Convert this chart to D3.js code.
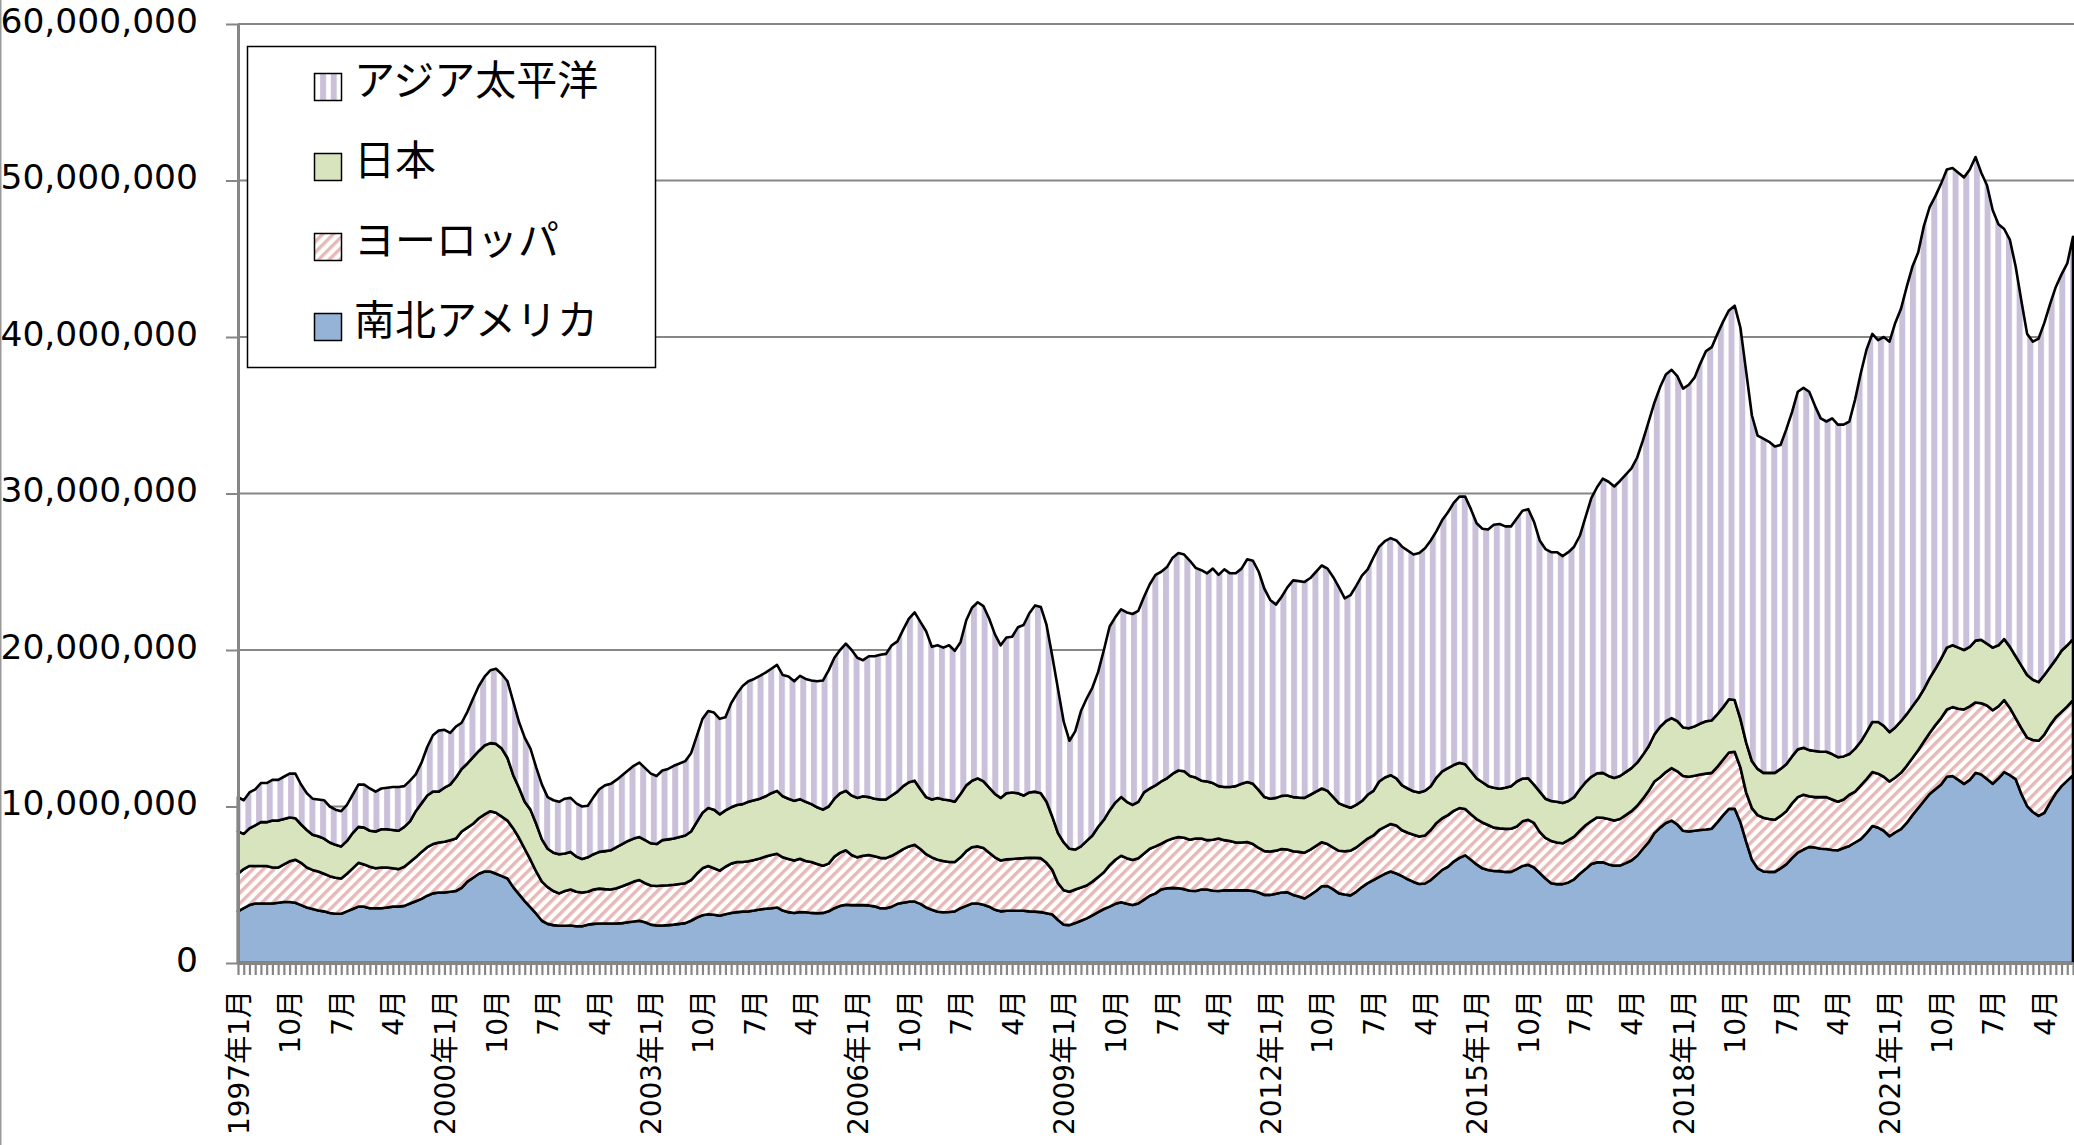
<!DOCTYPE html>
<html>
<head>
<meta charset="utf-8">
<script src="https://cdn.jsdelivr.net/npm/d3@7"></script>
<style>
  html, body { margin: 0; padding: 0; background: #fff; }
  svg { display: block; }
  text { font-family: "DejaVu Sans", "Noto Sans CJK JP", sans-serif; fill: #000; }
</style>
</head>
<body>
<svg id="chart" width="2074" height="1145"></svg>
<script>
// monthly values, million units, 1997-01 .. 2023-09
var americas = [
  3.3,3.5,3.7,3.8,3.8,3.8,3.8,3.85,3.9,3.9,
  3.85,3.7,3.55,3.45,3.35,3.3,3.2,3.15,3.15,3.3,
  3.45,3.6,3.6,3.5,3.5,3.5,3.55,3.6,3.6,3.65,
  3.8,3.95,4.1,4.3,4.45,4.5,4.5,4.55,4.6,4.8,
  5.2,5.45,5.7,5.85,5.85,5.7,5.55,5.4,4.85,4.4,
  3.95,3.55,3.15,2.7,2.5,2.42,2.38,2.38,2.4,2.35,
  2.35,2.45,2.5,2.52,2.52,2.52,2.52,2.55,2.6,2.65,
  2.7,2.6,2.45,2.4,2.4,2.42,2.45,2.5,2.55,2.7,
  2.9,3.05,3.12,3.08,3.02,3.12,3.2,3.25,3.28,3.3,
  3.35,3.42,3.47,3.5,3.55,3.35,3.25,3.2,3.26,3.24,
  3.2,3.18,3.2,3.3,3.5,3.65,3.72,3.7,3.7,3.7,
  3.68,3.62,3.5,3.5,3.6,3.78,3.85,3.92,3.92,3.78,
  3.55,3.4,3.28,3.24,3.26,3.3,3.5,3.65,3.8,3.8,
  3.72,3.6,3.4,3.3,3.34,3.34,3.34,3.34,3.3,3.28,
  3.25,3.18,3.1,2.75,2.45,2.42,2.55,2.7,2.85,3.05,
  3.25,3.45,3.6,3.78,3.88,3.78,3.7,3.8,4.05,4.3,
  4.45,4.7,4.78,4.8,4.78,4.72,4.62,4.6,4.7,4.7,
  4.62,4.6,4.64,4.64,4.64,4.64,4.64,4.6,4.5,4.35,
  4.35,4.42,4.5,4.52,4.35,4.25,4.12,4.35,4.6,4.9,
  4.92,4.7,4.45,4.38,4.32,4.55,4.85,5.1,5.3,5.5,
  5.7,5.85,5.72,5.55,5.35,5.18,5.05,5.08,5.3,5.62,
  5.95,6.15,6.48,6.72,6.88,6.6,6.3,6.05,5.94,5.88,
  5.87,5.82,5.82,6.0,6.2,6.28,6.1,5.75,5.4,5.1,
  5.04,5.04,5.15,5.35,5.7,6.0,6.33,6.43,6.44,6.3,
  6.22,6.22,6.38,6.55,6.85,7.3,7.72,8.3,8.65,8.95,
  9.1,8.85,8.45,8.4,8.45,8.5,8.53,8.58,9.0,9.45,
  9.85,9.85,9.0,7.75,6.6,6.05,5.85,5.82,5.82,6.05,
  6.3,6.7,7.05,7.25,7.42,7.38,7.3,7.28,7.22,7.2,
  7.35,7.48,7.7,7.92,8.3,8.75,8.65,8.45,8.1,8.35,
  8.55,8.95,9.45,9.9,10.35,10.8,11.1,11.4,11.9,11.95,
  11.7,11.45,11.7,12.15,12.05,11.75,11.45,11.8,12.2,12.0,
  11.75,10.8,10.03,9.65,9.4,9.6,10.25,10.85,11.3,11.65,
  12.0
];
var europe = [
  2.4,2.5,2.5,2.4,2.4,2.4,2.3,2.25,2.4,2.6,
  2.75,2.7,2.55,2.5,2.5,2.4,2.35,2.3,2.25,2.4,
  2.6,2.8,2.7,2.65,2.55,2.6,2.55,2.45,2.4,2.5,
  2.65,2.8,3.0,3.1,3.15,3.2,3.25,3.3,3.35,3.6,
  3.45,3.45,3.55,3.65,3.85,3.9,3.8,3.7,3.75,3.6,
  3.35,3.05,2.7,2.5,2.35,2.18,2.07,2.22,2.3,2.2,
  2.15,2.1,2.2,2.23,2.2,2.18,2.26,2.35,2.45,2.55,
  2.6,2.5,2.5,2.52,2.55,2.55,2.55,2.55,2.55,2.6,
  2.8,3.0,3.08,2.97,2.88,3.03,3.15,3.2,3.17,3.2,
  3.23,3.26,3.33,3.4,3.43,3.4,3.4,3.35,3.4,3.28,
  3.25,3.15,3.02,3.05,3.3,3.4,3.48,3.2,3.05,3.15,
  3.22,3.2,3.22,3.2,3.25,3.27,3.43,3.53,3.63,3.5,
  3.4,3.35,3.32,3.28,3.19,3.15,3.25,3.5,3.6,3.65,
  3.63,3.45,3.35,3.25,3.28,3.31,3.34,3.36,3.43,3.44,
  3.45,3.22,2.85,2.35,2.2,2.13,2.15,2.12,2.1,2.15,
  2.25,2.35,2.65,2.82,2.97,2.92,2.88,2.9,2.95,3.0,
  3.0,2.92,3.04,3.15,3.27,3.28,3.26,3.35,3.25,3.15,
  3.26,3.35,3.21,3.16,3.06,3.06,3.09,3.0,2.85,2.8,
  2.77,2.76,2.78,2.73,2.79,2.85,2.93,2.9,2.88,2.82,
  2.68,2.68,2.72,2.76,2.86,2.83,2.82,2.85,2.85,3.0,
  3.0,3.03,3.06,2.93,2.97,3.02,3.03,3.07,3.2,3.33,
  3.3,3.3,3.24,3.18,2.96,2.9,2.9,2.93,2.88,2.77,
  2.73,2.75,2.76,2.72,2.85,2.87,2.85,2.63,2.6,2.7,
  2.66,2.61,2.7,2.72,2.75,2.8,2.74,2.87,2.84,2.9,
  2.88,2.98,3.07,3.15,3.2,3.2,3.28,3.3,3.22,3.25,
  3.35,3.4,3.5,3.5,3.51,3.55,3.57,3.57,3.55,3.55,
  3.6,3.65,3.5,3.15,3.3,3.4,3.43,3.38,3.33,3.35,
  3.4,3.5,3.55,3.5,3.23,3.22,3.3,3.32,3.23,3.1,
  3.1,3.27,3.25,3.43,3.45,3.45,3.45,3.45,3.5,3.5,
  3.6,3.65,3.65,3.7,3.8,3.9,4.1,4.25,4.3,4.4,
  4.55,4.75,4.7,4.5,4.55,4.7,4.7,4.6,4.6,4.3,
  3.9,4.2,4.37,4.6,4.8,5.0,4.95,4.85,4.75,4.75,
  4.8
];
var japan = [
  2.7,2.25,2.4,2.6,2.8,2.8,3.0,3.0,2.9,2.8,
  2.65,2.45,2.4,2.25,2.25,2.25,2.15,2.1,2.05,2.1,
  2.25,2.3,2.35,2.3,2.35,2.45,2.45,2.45,2.45,2.55,
  2.6,2.95,3.1,3.3,3.35,3.25,3.45,3.55,3.9,4.0,
  4.1,4.25,4.3,4.4,4.35,4.4,4.35,4.0,3.4,3.2,
  3.0,3.2,3.05,2.7,2.45,2.45,2.5,2.4,2.4,2.25,
  2.15,2.2,2.25,2.35,2.43,2.5,2.62,2.7,2.75,2.75,
  2.75,2.75,2.7,2.68,2.9,2.93,2.95,3.0,3.05,3.1,
  3.3,3.55,3.7,3.75,3.6,3.6,3.6,3.65,3.7,3.8,
  3.82,3.82,3.85,3.95,4.02,3.9,3.85,3.81,3.81,3.78,
  3.7,3.62,3.58,3.65,3.7,3.8,3.8,3.8,3.8,3.8,
  3.7,3.68,3.73,3.75,3.85,3.9,4.02,4.1,4.1,3.82,
  3.65,3.7,3.95,3.93,3.95,3.85,4.05,4.2,4.25,4.35,
  4.25,4.15,4.05,4.0,4.23,4.25,4.17,4.0,4.17,4.23,
  4.15,3.9,3.4,3.2,3.05,2.75,2.55,2.63,2.85,2.95,
  3.2,3.35,3.5,3.65,3.75,3.6,3.52,3.6,3.9,3.85,
  3.9,3.98,3.98,4.15,4.25,4.25,4.07,3.9,3.7,3.75,
  3.62,3.35,3.4,3.45,3.6,3.75,3.84,3.85,3.7,3.45,
  3.38,3.37,3.4,3.45,3.46,3.47,3.5,3.5,3.47,3.43,
  3.4,3.22,3.03,2.91,2.74,2.72,2.68,2.8,2.85,3.1,
  3.15,3.12,3.02,2.87,2.83,2.77,2.82,2.85,2.8,2.9,
  3.0,3.0,2.93,2.9,2.86,2.75,2.6,2.57,2.48,2.55,
  2.54,2.63,2.72,2.88,2.73,2.65,2.45,2.57,2.5,2.55,
  2.6,2.57,2.5,2.53,2.65,2.75,2.83,2.82,2.87,2.75,
  2.72,2.75,2.75,2.75,2.75,2.8,2.85,3.0,3.23,3.25,
  3.2,3.2,3.1,3.1,3.16,3.25,3.35,3.35,3.35,3.35,
  3.4,3.3,3.1,3.2,3.0,2.95,2.87,2.95,3.0,3.0,
  3.0,3.0,3.05,3.0,2.95,2.95,2.9,2.9,2.9,2.85,
  2.75,2.6,2.75,2.8,3.0,3.2,3.3,3.25,3.15,3.2,
  3.3,3.3,3.3,3.3,3.35,3.5,3.6,3.8,3.95,3.95,
  3.9,3.8,3.8,3.95,4.05,3.95,4.0,3.9,3.9,3.9,
  3.95,4.0,4.0,3.85,3.75,3.8,3.7,3.7,3.9,3.9,
  3.9
];
var asia = [
  2.2,2.15,2.3,2.3,2.5,2.5,2.6,2.6,2.7,2.8,
  2.85,2.55,2.35,2.3,2.35,2.45,2.3,2.25,2.25,2.3,
  2.45,2.7,2.75,2.7,2.55,2.6,2.65,2.75,2.8,2.6,
  2.6,2.35,2.6,3.1,3.6,3.9,3.7,3.3,3.25,2.95,
  3.3,3.75,4.15,4.4,4.65,4.8,4.75,4.9,4.7,4.2,
  4.1,3.9,3.6,3.5,3.3,3.35,3.35,3.5,3.45,3.4,
  3.35,3.3,3.65,4.0,4.2,4.25,4.3,4.4,4.5,4.65,
  4.75,4.6,4.45,4.35,4.45,4.5,4.65,4.7,4.75,5.0,
  5.5,6.0,6.2,6.2,6.1,5.95,6.65,7.1,7.55,7.7,
  7.75,7.85,7.9,7.95,8.05,7.75,7.8,7.64,7.88,7.85,
  7.9,8.05,8.25,8.7,9.0,9.15,9.4,9.3,8.95,8.7,
  9.0,9.1,9.25,9.3,9.6,9.6,10.0,10.45,10.75,10.7,
  10.6,9.75,9.75,9.7,9.9,9.65,9.7,10.55,11.05,11.25,
  11.2,10.8,10.2,9.75,9.95,9.95,10.6,10.9,11.45,11.9,
  11.9,11.3,10.25,9.2,7.7,6.9,7.55,8.65,9.1,9.45,
  9.9,10.85,11.75,11.85,12.0,12.1,12.2,12.2,12.5,13.05,
  13.45,13.4,13.5,13.8,13.9,13.85,13.75,13.4,13.45,13.3,
  13.7,13.5,13.9,13.65,13.6,13.75,14.23,14.25,13.95,13.3,
  12.7,12.35,12.72,13.3,13.85,13.83,13.8,13.85,14.05,14.25,
  14.2,14.05,13.8,13.25,13.58,14.0,14.4,14.4,14.9,15.0,
  15.1,15.15,15.2,15.25,15.2,15.13,15.3,15.5,15.7,15.75,
  16.05,16.35,16.75,17.0,17.1,16.75,16.3,16.2,16.4,16.8,
  16.91,16.7,16.6,16.8,17.12,17.2,16.8,16.05,15.95,15.9,
  15.95,15.78,15.9,16.0,16.2,16.95,17.8,18.28,18.8,18.8,
  18.63,18.85,19.0,19.15,19.5,20.1,20.75,21.2,21.7,22.15,
  22.25,22.05,21.65,21.95,22.28,23.0,23.65,23.85,24.3,24.65,
  24.85,25.2,25.0,23.7,22.1,21.3,21.35,21.15,20.85,20.7,
  21.4,22.0,22.85,23.0,22.9,22.05,21.3,21.1,21.45,21.25,
  21.2,21.25,22.3,23.55,24.45,24.8,24.4,24.85,24.95,25.85,
  26.35,27.3,28.1,28.5,29.6,30.1,30.2,30.35,30.55,30.5,
  30.35,30.2,30.5,30.9,29.85,29.3,27.95,26.9,26.2,26.0,
  24.9,23.3,21.8,21.6,21.95,22.5,23.2,23.8,24.05,24.4,
  25.7
];

var categories = d3.timeMonth.range(new Date(1997, 0, 1), new Date(2023, 9, 1));
var yTicks = [0, 10e6, 20e6, 30e6, 40e6, 50e6, 60e6];
var seriesKeys = ["americas", "europe", "japan", "asia"];
var seriesNames = {americas: "南北アメリカ", europe: "ヨーロッパ", japan: "日本", asia: "アジア太平洋"};
var legendOrder = ["asia", "japan", "europe", "americas"];

var svg = d3.select("#chart");
var plotLeft = 238, plotRight = 2073, plotTop = 24, plotBottom = 963;
var gray = "#868686";

// build table for the stack
var table = categories.map(function (c, i) {
    return {date: c, americas: americas[i] * 1e6, europe: europe[i] * 1e6, japan: japan[i] * 1e6, asia: asia[i] * 1e6};
});

var x = d3.scalePoint().domain(d3.range(categories.length)).range([plotLeft, plotRight]);
var y = d3.scaleLinear().domain([0, 60e6]).range([plotBottom, plotTop]);

// patterns
var defs = svg.append("defs");
var pv = defs.append("pattern").attr("id", "pat-asia").attr("patternUnits", "userSpaceOnUse")
    .attr("width", 10.67).attr("height", 10);
pv.append("rect").attr("width", 10.67).attr("height", 10).attr("fill", "#fff");
pv.append("rect").attr("x", 0).attr("width", 6).attr("height", 10).attr("fill", "#CBC0DA");

var pd = defs.append("pattern").attr("id", "pat-europe").attr("patternUnits", "userSpaceOnUse")
    .attr("width", 7.54).attr("height", 10).attr("patternTransform", "rotate(45)");
pd.append("rect").attr("width", 7.54).attr("height", 10).attr("fill", "#fff");
pd.append("rect").attr("x", 0).attr("width", 3.4).attr("height", 10).attr("fill", "#E6B9B8");

var fills = {americas: "#95B3D7", europe: "url(#pat-europe)", japan: "#D7E4BD", asia: "url(#pat-asia)"};

// chart area border on the left
svg.append("line").attr("x1", 0.75).attr("x2", 0.75).attr("y1", 0).attr("y2", 1145)
    .style("stroke", "#9a9a9a").style("stroke-width", 1.5);

// gridlines
svg.append("g").selectAll("line").data(yTicks.filter(function (d) { return d > 0; })).enter()
    .append("line")
    .attr("x1", plotLeft).attr("x2", plotRight + 1)
    .attr("y1", function (d) { return y(d); }).attr("y2", function (d) { return y(d); })
    .style("stroke", gray).style("stroke-width", 2);

// stacked areas
var stack = d3.stack().keys(seriesKeys);
var layers = stack(table);

var area = d3.area()
    .x(function (d, i) { return x(i); })
    .y0(function (d) { return y(d[0]); })
    .y1(function (d) { return y(d[1]); });

svg.append("g").selectAll("path").data(layers).enter()
    .append("path")
    .attr("d", area)
    .style("fill", function (d) { return fills[d.key]; })
    .style("stroke", "#000")
    .style("stroke-width", 2.6)
    .style("stroke-linejoin", "round");

// x axis
var xAxis = d3.axisBottom(x)
    .tickSize(12).tickSizeOuter(0)
    .tickFormat(function (i) {
        if (i % 9 !== 0) return "";
        var c = categories[i];
        return c.getMonth() === 0 ? c.getFullYear() + "年1月" : (c.getMonth() + 1) + "月";
    });
var gx = svg.append("g").attr("transform", "translate(0," + plotBottom + ")").call(xAxis);
gx.select(".domain").style("stroke", gray).style("stroke-width", 3);
gx.selectAll(".tick line").style("stroke", gray).style("stroke-width", 2.2);
gx.selectAll(".tick text")
    .attr("transform", "rotate(-90)")
    .attr("text-anchor", "end")
    .attr("x", -27).attr("y", 0).attr("dy", "0.36em")
    .style("font-size", "28px");

// y axis
var yAxis = d3.axisLeft(y).tickValues(yTicks).tickSize(12).tickSizeOuter(0).tickPadding(28)
    .tickFormat(d3.format(","));
var gy = svg.append("g").attr("transform", "translate(" + plotLeft + ",0)").call(yAxis);
gy.select(".domain").style("stroke", gray).style("stroke-width", 3);
gy.selectAll(".tick line").style("stroke", gray).style("stroke-width", 2);
gy.selectAll(".tick text").attr("dy", "0.235em").style("font-size", "34.5px");
gx.attr("font-family", null); gy.attr("font-family", null);

// legend
var lg = svg.append("g");
lg.append("rect").attr("x", 247.5).attr("y", 46.5).attr("width", 408).attr("height", 321)
    .style("fill", "#fff").style("stroke", "#000").style("stroke-width", 1.5);
var items = lg.selectAll("g.item").data(legendOrder).enter().append("g").attr("class", "item");
items.append("rect")
    .attr("x", 314.5).attr("y", function (d, i) { return 73.5 + i * 80; })
    .attr("width", 27).attr("height", 27)
    .style("fill", function (d) { return fills[d]; })
    .style("stroke", "#000").style("stroke-width", 1.5);
items.append("text")
    .attr("x", 354).attr("y", function (d, i) { return 95 + i * 80; })
    .style("font-size", "41px")
    .text(function (d) { return seriesNames[d]; });
</script>
</body>
</html>
